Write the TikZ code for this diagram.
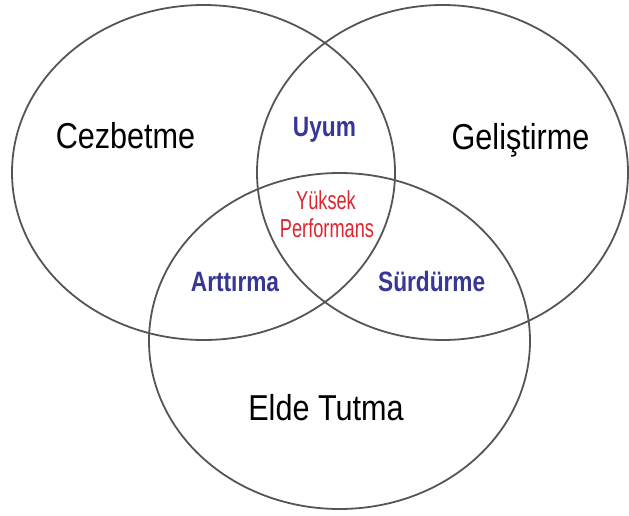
\documentclass[tikz,border=0pt]{standalone}
\usepackage{fontspec}
\usetikzlibrary{shapes.geometric}
\setmainfont{Liberation Sans}
\newfontfamily\bigfont[FakeStretch=0.85]{Liberation Sans}
\newfontfamily\midfont[FakeStretch=0.81]{Liberation Sans}
\newfontfamily\redfont[FakeStretch=0.70]{Liberation Sans}
\definecolor{lblblue}{RGB}{55,55,150}
\definecolor{lblred}{RGB}{222,38,48}
\definecolor{ringgray}{RGB}{85,85,85}
\tikzset{
  ring/.style={ellipse, draw=ringgray, line width=1.8pt, inner sep=0pt},
  bigtxt/.style={anchor=base, inner sep=0pt, font=\bigfont\fontsize{36}{40}\selectfont, text=black},
  midtxt/.style={anchor=base, inner sep=0pt, font=\midfont\bfseries\fontsize{28}{30}\selectfont, text=lblblue},
  redtxt/.style={anchor=base, inner sep=0pt, font=\redfont\fontsize{26}{28}\selectfont, text=lblred}
}
\begin{document}
\begin{tikzpicture}[x=1pt,y=-1pt]
\useasboundingbox (0,0) rectangle (629,516);
\fill[white] (0,0) rectangle (629,516);
\node[ring, minimum width=383pt, minimum height=335pt] (left) at (203.5,172.5) {};
\node[ring, minimum width=371pt, minimum height=335pt] (right) at (442.5,172.5) {};
\node[ring, minimum width=381pt, minimum height=336pt] (bottom) at (339.5,341) {};
\node[bigtxt] (cez) at (125.5,149) {Cezbetme};
\node[bigtxt] (gel) at (520.5,149.3) {Geliştirme};
\node[bigtxt] (elde) at (326,420.7) {Elde Tutma};
\node[midtxt] (uyum) at (324.5,136) {Uyum};
\node[midtxt] (art) at (235,291.7) {Arttırma};
\node[midtxt] (sur) at (431.7,291.7) {Sürdürme};
\node[redtxt] (yuk) at (326,209.3) {Yüksek};
\node[redtxt] (perf) at (327,237.3) {Performans};
\end{tikzpicture}
\end{document}
